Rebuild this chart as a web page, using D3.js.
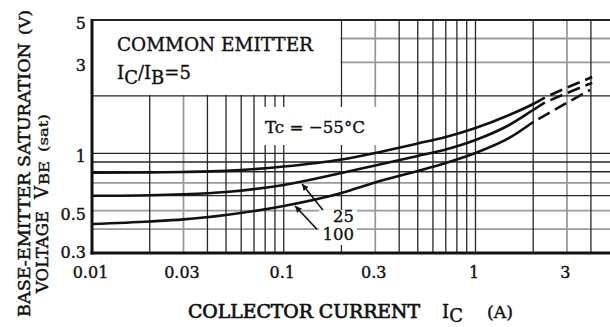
<!DOCTYPE html>
<html>
<head>
<meta charset="utf-8">
<script src="https://cdn.jsdelivr.net/npm/d3@7"></script>
<style>
body {margin:0; background:#fff}
svg {display:block}
</style>
</head>
<body>
<div id="container"></div>
<script>
// Curve data (IC in A, VBE(sat) in V)
var currentSolid = [0.01, 0.02, 0.03, 0.05, 0.1, 0.2, 0.3, 0.5, 0.7, 1, 1.5, 2, 2.3]
var vbeMinus55 = [0.791, 0.794, 0.798, 0.809, 0.852, 0.928, 1.004, 1.126, 1.217, 1.357, 1.588, 1.813, 1.961]
var vbe25 = [0.599, 0.603, 0.61, 0.627, 0.682, 0.788, 0.863, 0.968, 1.047, 1.174, 1.407, 1.687, 1.846]
var vbe100 = [0.426, 0.439, 0.45, 0.475, 0.529, 0.619, 0.703, 0.808, 0.89, 1.004, 1.203, 1.459]

// Dashed (extrapolated) ends
var currentDashed = [2.3, 3, 4.06]
var currentDashed100 = [2, 3, 3.96]
var vbeMinus55Dashed = [1.961, 2.21, 2.51]
var vbe25Dashed = [1.846, 2.07, 2.34]
var vbe100Dashed = [1.459, 1.84, 2.15]

// Axes
var xTicks = [0.01, 0.03, 0.1, 0.3, 1, 3]
var xTickLabels = ['0.01', '0.03', '0.1', '0.3', '1', '3']
var yTicks = [5, 3, 1, 0.5, 0.3]
var yTickLabels = ['5', '3', '1', '0.5', '0.3']
var xGridDark = [0.02, 0.04, 0.05, 0.06, 0.07, 0.08, 0.09, 0.1, 0.2, 0.4, 0.5, 0.6, 0.7, 0.8, 0.9, 1, 2, 4]
var xGridLight = [0.03, 0.3, 3]
var yGridDark = [0.6, 0.8, 0.9, 1, 2]
var yGridLight = [0.4, 0.5, 0.7, 3, 4]

// Annotation anchors (data coords)
var arrows = [
	{label:'25', from:[0.16, 0.504], to:[0.1246, 0.69]},
	{label:'100', from:[0.149, 0.4], to:[0.1146, 0.529]}
]

var W = 610, H = 327
var font = "'DejaVu Serif', serif"
var ink = '#111'

var x = d3.scaleLog().domain([0.01, 5]).range([92, 609.5])
var y = d3.scaleLog().domain([0.3, 5]).range([253, 20])

var svg = d3.select('#container').append('svg').attr('width', W).attr('height', H)
svg.append('rect').attr('width', W).attr('height', H).attr('fill', '#fff')

svg.append('defs').append('marker').attr('id', 'head').attr('viewBox', '0 0 10 10').attr('refX', 10).attr('refY', 5)
	.attr('markerWidth', 5.5).attr('markerHeight', 4).attr('orient', 'auto')
	.append('path').attr('d', 'M0,0L10,5L0,10Z').attr('fill', ink)

// text helper, a light stroke to get the heavy print look
var label = function(parent, str, size, stroke) {
	return parent.append('text').text(str).style('font-family', font).style('font-size', size + 'px')
		.attr('fill', ink).attr('stroke', ink).attr('stroke-width', stroke == undefined ? 0.35 : stroke)
}

var grid = svg.append('g')

// grid lines
var vline = function(vals, color, w) {
	grid.selectAll(null).data(vals).enter().append('line')
		.attr('x1', function(d) {return x(d)}).attr('x2', function(d) {return x(d)})
		.attr('y1', y(5)).attr('y2', y(0.3))
		.attr('stroke', color).attr('stroke-width', w)
}
var hline = function(vals, color, w) {
	grid.selectAll(null).data(vals).enter().append('line')
		.attr('y1', function(d) {return y(d)}).attr('y2', function(d) {return y(d)})
		.attr('x1', x(0.01)).attr('x2', W)
		.attr('stroke', color).attr('stroke-width', w)
}
vline(xGridLight, '#9a9a9a', 1.8)
hline(yGridLight, '#9a9a9a', 1.8)
vline(xGridDark, '#262626', 1.3)
hline(yGridDark, '#262626', 1.3)

// white boxes where the labels sit
var mask = function(x0, x1, y0, y1) {
	svg.append('rect').attr('x', x0).attr('y', y0).attr('width', x1 - x0).attr('height', y1 - y0).attr('fill', '#fff')
}
mask(x(0.01) + 1, x(0.2) - 1, y(5) + 1, y(2) - 1)
mask(260, 386, y(2) + 11, 145)
mask(319, 357, 210, 245)

// frame
svg.append('line').attr('x1', x(0.01)).attr('x2', W).attr('y1', y(5)).attr('y2', y(5)).attr('stroke', '#222').attr('stroke-width', 2)
svg.append('line').attr('x1', x(0.01)).attr('x2', x(0.01)).attr('y1', y(5) - 1).attr('y2', y(0.3) + 1.5).attr('stroke', ink).attr('stroke-width', 3)
svg.append('line').attr('x1', x(0.01) - 1.5).attr('x2', W).attr('y1', y(0.3)).attr('y2', y(0.3)).attr('stroke', ink).attr('stroke-width', 3)

// curves
var line = d3.line().x(function(d) {return x(d[0])}).y(function(d) {return y(d[1])}).curve(d3.curveMonotoneX)
var zip = function(a, b) {return b.map(function(v, i) {return [a[i], v]})}
var solids = [zip(currentSolid, vbeMinus55), zip(currentSolid, vbe25), zip(currentSolid, vbe100)]
var dashes = [zip(currentDashed, vbeMinus55Dashed), zip(currentDashed, vbe25Dashed), zip(currentDashed100, vbe100Dashed)]

svg.selectAll(null).data(solids).enter().append('path')
	.attr('d', line).attr('fill', 'none').attr('stroke', ink).attr('stroke-width', 2.6)
svg.selectAll(null).data(dashes).enter().append('path')
	.attr('d', line).attr('fill', 'none').attr('stroke', ink).attr('stroke-width', 2.6)
	.attr('stroke-dasharray', '0,6,13,0')

// arrows + labels
arrows.map(function(a) {
	svg.append('line')
		.attr('x1', x(a.from[0])).attr('y1', y(a.from[1]))
		.attr('x2', x(a.to[0])).attr('y2', y(a.to[1]))
		.attr('stroke', ink).attr('stroke-width', 1.6).attr('marker-end', 'url(#head)')
})
label(svg, '25', 16.5).attr('x', 354).attr('y', 222).attr('text-anchor', 'end')
label(svg, '100', 16.5).attr('x', 354).attr('y', 240).attr('text-anchor', 'end')

// Tc label
label(svg, 'Tc = \u221255\u00b0C', 16.5).attr('x', 265).attr('y', 133).attr('textLength', 100).attr('lengthAdjust', 'spacingAndGlyphs')

// title box text
label(svg, 'COMMON EMITTER', 18).attr('x', 117).attr('y', 51).attr('textLength', 196).attr('lengthAdjust', 'spacingAndGlyphs')
var ratio = label(svg, '', 18).attr('x', 117).attr('y', 79)
ratio.append('tspan').text('I')
ratio.append('tspan').attr('dy', 5).text('C')
ratio.append('tspan').attr('dy', -5).text('/I')
ratio.append('tspan').attr('dy', 5).text('B')
ratio.append('tspan').attr('dy', -5).text('=5')

// tick labels
svg.selectAll(null).data(xTicks).enter().append('text')
	.attr('x', function(d) {return x(d) - 1.5}).attr('y', 278).attr('text-anchor', 'middle')
	.text(function(d, i) {return xTickLabels[i]})
	.style('font-family', font).style('font-size', '16px').attr('fill', ink).attr('stroke', ink).attr('stroke-width', 0.4)
svg.selectAll(null).data(yTicks).enter().append('text')
	.attr('x', 86).attr('y', function(d) {return Math.min(y(d) + 9, 258)}).attr('text-anchor', 'end')
	.text(function(d, i) {return yTickLabels[i]})
	.style('font-family', font).style('font-size', '16px').attr('fill', ink).attr('stroke', ink).attr('stroke-width', 0.4)

// x axis title
label(svg, 'COLLECTOR CURRENT', 18, 0.7).attr('x', 188).attr('y', 318).attr('textLength', 232).attr('lengthAdjust', 'spacingAndGlyphs')
var ic = label(svg, '', 18, 0.4).attr('x', 442).attr('y', 318)
ic.append('tspan').text('I')
ic.append('tspan').attr('dy', 4).text('C')
label(svg, '(A)', 16, 0.4).attr('x', 487).attr('y', 318).attr('textLength', 26).attr('lengthAdjust', 'spacingAndGlyphs')

// y axis title, two rotated lines
var rot = function(el, tx, ty, len) {
	el.attr('transform', 'translate(' + tx + ',' + ty + ') rotate(-90)')
	if(len != undefined) el.attr('textLength', len).attr('lengthAdjust', 'spacingAndGlyphs')
	return el
}
rot(label(svg, 'BASE-EMITTER SATURATION', 17.5, 0.5), 30, 317, 274)
rot(label(svg, '(V)', 15, 0.4), 30, 35, 25)
rot(label(svg, 'VOLTAGE', 17, 0.5), 47.5, 293, 82)
rot(label(svg, 'V', 18, 0.4), 47.5, 199)
rot(label(svg, 'BE', 13, 0.4), 48.5, 185, 24)
rot(label(svg, '(sat)', 12, 0.3), 48, 152, 38)
</script>
</body>
</html>
